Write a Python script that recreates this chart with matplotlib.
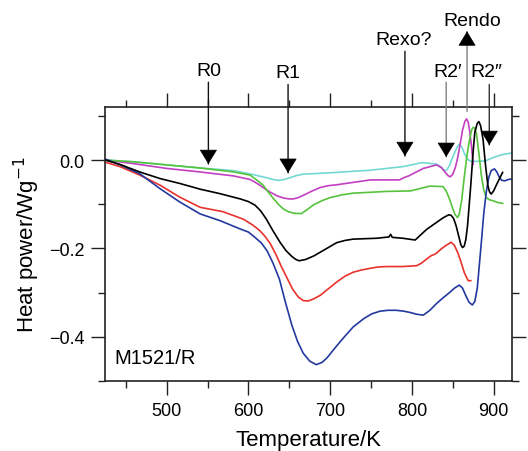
import matplotlib
matplotlib.use("Agg")
import matplotlib.pyplot as plt
from matplotlib.ticker import MultipleLocator

plt.rcParams['font.family'] = ['Liberation Sans', 'DejaVu Sans']

# ---- data ----
T_cyan = [425, 460, 500, 541, 582, 606, 622, 630, 637, 644, 651, 659, 667, 688, 708, 749, 789,
          812, 830, 836, 840, 843, 846, 849, 852, 855, 858, 861, 864, 868, 872, 880, 890, 900,
          910, 922]
P_cyan = [0.0, -0.004, -0.011, -0.018, -0.024, -0.033, -0.040, -0.044, -0.046, -0.044, -0.040,
          -0.035, -0.032, -0.030, -0.028, -0.023, -0.015, -0.006, -0.009, -0.016, -0.024, -0.022,
          -0.012, 0.002, 0.015, 0.028, 0.036, 0.030, 0.016, 0.002, -0.003, -0.003, -0.002, 0.006,
          0.012, 0.016]

T_mag = [425, 459, 500, 541, 582, 602, 608, 614, 620, 627, 635, 643, 650, 655, 661, 667, 678,
         688, 698, 708, 749, 785, 790, 796, 814, 830, 836, 840, 844, 847, 850, 853, 856, 859,
         862, 865, 867, 869, 871, 873, 875]
P_mag = [0.0, -0.008, -0.019, -0.027, -0.036, -0.044, -0.050, -0.057, -0.065, -0.073, -0.081,
         -0.086, -0.088, -0.088, -0.085, -0.080, -0.070, -0.062, -0.058, -0.056, -0.045, -0.045,
         -0.040, -0.036, -0.019, -0.011, -0.017, -0.026, -0.035, -0.038, -0.032, -0.018, 0.005,
         0.035, 0.068, 0.088, 0.093, 0.085, 0.062, 0.030, -0.010]

T_green = [425, 459, 500, 541, 582, 602, 610, 618, 624, 631, 637, 643, 649, 655, 660, 665, 672,
           680, 690, 700, 714, 728, 769, 798, 822, 838, 842, 846, 850, 853, 856, 858, 861, 864,
           867, 870, 873, 875, 877, 879, 882, 885, 888, 891, 895, 899, 905, 911]
P_green = [0.0, -0.004, -0.011, -0.018, -0.027, -0.034, -0.045, -0.057, -0.072, -0.088, -0.101,
           -0.111, -0.117, -0.120, -0.121, -0.121, -0.112, -0.101, -0.092, -0.085, -0.079, -0.075,
           -0.071, -0.070, -0.059, -0.060, -0.070, -0.088, -0.110, -0.124, -0.130, -0.122, -0.090,
           -0.040, 0.005, 0.040, 0.068, 0.074, 0.072, 0.060, 0.015, -0.035, -0.068, -0.085,
           -0.090, -0.092, -0.096, -0.098]

T_black = [425, 443, 467, 492, 516, 541, 565, 590, 600, 608, 615, 622, 630, 639, 646, 653, 658,
           662, 670, 680, 694, 708, 718, 728, 757, 772, 774, 776, 789, 804, 818, 838, 845, 848,
           851, 854, 857, 860, 862, 864, 866, 868, 870, 872, 875, 877, 880, 882, 884, 887, 890,
           893, 895, 897, 900, 903, 907, 911]
P_black = [0.0, -0.010, -0.027, -0.042, -0.053, -0.066, -0.076, -0.088, -0.094, -0.102, -0.115,
           -0.134, -0.160, -0.187, -0.205, -0.218, -0.225, -0.228, -0.225, -0.217, -0.202, -0.187,
           -0.182, -0.179, -0.177, -0.174, -0.168, -0.175, -0.177, -0.181, -0.157, -0.131,
           -0.124, -0.125, -0.132, -0.148, -0.170, -0.192, -0.198, -0.195, -0.180, -0.150,
           -0.105, -0.058, 0.020, 0.063, 0.083, 0.087, 0.078, 0.048, -0.010, -0.058, -0.072,
           -0.077, -0.070, -0.058, -0.043, -0.028]

T_red = [425, 443, 467, 492, 516, 541, 569, 594, 606, 614, 620, 627, 634, 640, 647, 654, 661,
         667, 673, 680, 688, 698, 708, 718, 728, 738, 749, 759, 769, 779, 789, 798, 806, 812,
         818, 824, 827, 830, 836, 842, 848, 852, 856, 860, 864, 867, 869, 872]
P_red = [-0.005, -0.015, -0.034, -0.057, -0.084, -0.107, -0.117, -0.134, -0.148, -0.160, -0.172,
         -0.190, -0.215, -0.240, -0.266, -0.292, -0.310, -0.318, -0.319, -0.314, -0.306, -0.291,
         -0.276, -0.263, -0.254, -0.249, -0.245, -0.242, -0.241, -0.241, -0.241, -0.240, -0.239,
         -0.233, -0.224, -0.216, -0.214, -0.211, -0.201, -0.193, -0.186, -0.193, -0.209, -0.230,
         -0.254, -0.266, -0.273, -0.273]

T_blue = [425, 443, 467, 492, 516, 541, 565, 590, 600, 608, 616, 623, 630, 638, 645, 653, 660,
          667, 675, 683, 690, 696, 706, 716, 728, 741, 751, 761, 771, 781, 790, 798, 806, 814,
          822, 830, 838, 846, 852, 858, 862, 866, 870, 874, 877, 880, 885, 888, 891, 894, 897,
          901, 904, 907, 910, 914, 918, 922]
P_blue = [0.002, -0.011, -0.031, -0.065, -0.095, -0.122, -0.137, -0.156, -0.163, -0.175, -0.188,
          -0.206, -0.233, -0.270, -0.320, -0.373, -0.410, -0.437, -0.455, -0.463, -0.458, -0.448,
          -0.425, -0.403, -0.378, -0.359, -0.348, -0.342, -0.340, -0.340, -0.342, -0.345, -0.349,
          -0.351, -0.340, -0.325, -0.312, -0.300, -0.290, -0.283, -0.290, -0.307, -0.322, -0.328,
          -0.320, -0.290, -0.186, -0.120, -0.073, -0.040, -0.024, -0.020, -0.027, -0.039, -0.046,
          -0.047, -0.044, -0.043]

# arrows: label, x position, tip y, tail y, label position
arrow_labels = ["R0", "R1", "Rexo?", "R2\u2032", "Rendo", "R2\u2033"]
arrow_T = [551, 648.5, 791.5, 842, 867.5, 894.7]
arrow_tip = [-0.009, -0.029, 0.009, 0.007, 0.291, 0.034]
arrow_tail = [0.176, 0.171, 0.246, 0.176, 0.110, 0.171]
label_T = [552, 648, 790, 844, 873.5, 891]
label_y = [0.203, 0.198, 0.273, 0.200, 0.316, 0.200]
line_colors = ["#111111", "#111111", "#111111", "#808080", "#808080", "#333333"]

fig = plt.figure(figsize=(5.28, 4.52), dpi=100)
ax = fig.add_axes([105 / 528, 1 - 382 / 452, (512 - 105) / 528, (382 - 108) / 452])

lw = 1.2
ax.plot(T_cyan, P_cyan, color="#72d9d2", lw=lw)
ax.plot(T_mag, P_mag, color="#c23fc2", lw=lw)
ax.plot(T_green, P_green, color="#55c43c", lw=lw)
ax.plot(T_red, P_red, color="#e8322b", lw=lw)
ax.plot(T_blue, P_blue, color="#23399f", lw=lw)
ax.plot(T_black, P_black, color="#000000", lw=lw)

ax.set_xlim(424.5, 922.5)
ax.set_ylim(-0.5, 0.12)

ax.xaxis.set_major_locator(MultipleLocator(100))
ax.xaxis.set_minor_locator(MultipleLocator(50))
ax.yaxis.set_minor_locator(MultipleLocator(0.1))
ax.set_yticks([-0.4, -0.2, 0.0])
ax.set_yticklabels(["\u22120.4", "\u22120.2", "0.0"])

ax.tick_params(which="both", direction="out", top=True, right=True, labelsize=13,
               width=1.0, color="#222222", pad=5)
ax.tick_params(which="major", length=10)
ax.tick_params(which="minor", length=5)
for s in ax.spines.values():
    s.set_linewidth(1.2)
    s.set_color("#222222")

ax.set_xlabel("Temperature/K", fontsize=16, labelpad=7)
ax.set_ylabel("Heat power/Wg$^{-1}$", fontsize=16, labelpad=5)

ax.text(436, -0.446, "M1521/R", fontsize=14.5, va="center", ha="left")

hl_pt = 9.5
for lab, x, tip, tail, lx, ly, c in zip(arrow_labels, arrow_T, arrow_tip, arrow_tail,
                                         label_T, label_y, line_colors):
    ax.annotate("", xy=(x, tip), xytext=(x, tail), annotation_clip=False,
                arrowprops=dict(arrowstyle="-", color=c, lw=1.0, shrinkA=0, shrinkB=0))
    sign = 1 if tail > tip else -1
    ax.annotate("", xy=(x, tip), xytext=(0, sign * hl_pt), textcoords="offset points",
                annotation_clip=False,
                arrowprops=dict(arrowstyle="-|>,head_length=0.95,head_width=0.58",
                                mutation_scale=10, color="black", lw=0.5,
                                shrinkA=0, shrinkB=0))
    ax.text(lx, ly, lab, fontsize=14, ha="center", va="center", clip_on=False)

fig.savefig("out.png", dpi=100)
